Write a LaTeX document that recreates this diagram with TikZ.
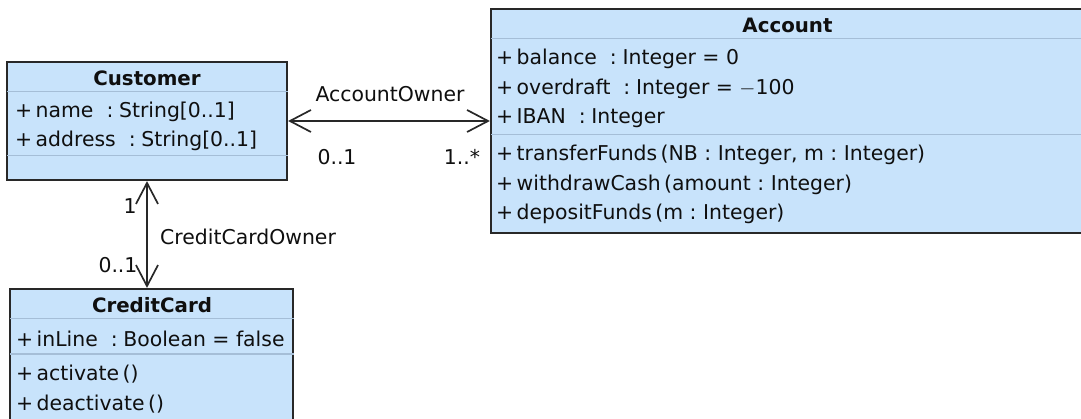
\documentclass[tikz,border=0pt]{standalone}
\usepackage{fontspec}
\setmainfont{DejaVu Sans}
\usetikzlibrary{arrows.meta}
\definecolor{boxfill}{RGB}{200,227,251}
\definecolor{boxline}{RGB}{40,40,40}
\definecolor{sepline}{RGB}{165,190,215}
\definecolor{txt}{RGB}{15,15,15}
\newcommand{\cln}{\ \ :\hspace{0.28em}}
\newcommand{\pcln}{\ :\ }
\tikzset{
  umlbox/.style={draw=boxline, fill=boxfill, line width=2.2pt, inner sep=0pt},
  sep/.style={draw=sepline, line width=1pt},
  row/.style={anchor=west, inner sep=0pt, text=txt, font=\fontsize{20.4}{24}\selectfont},
  title/.style={anchor=center, inner sep=0pt, text=txt, font=\fontsize{19.8}{24}\selectfont\bfseries},
  lbl/.style={inner sep=0pt, text=txt, font=\fontsize{20.4}{24}\selectfont},
  assoc/.style={draw=boxline, line width=1.7pt, {Straight Barb[length=21pt,width=22pt]}-{Straight Barb[length=21pt,width=22pt]}}
}
\begin{document}
\begin{tikzpicture}[x=1pt,y=-1pt]
\useasboundingbox (0,0) rectangle (1081,419);
\clip (0,0) rectangle (1081,419);
% Boxes
\node[umlbox, minimum width=280pt, minimum height=118pt] (cust) at (147,121) {};
\node[umlbox, minimum width=593pt, minimum height=224pt] (acc) at (787.5,121) {};
\node[umlbox, minimum width=283pt, minimum height=161pt] (cc) at (151.5,369.5) {};
% Separators
\coordinate (cs1) at (cust.west |- 0,92);
\coordinate (cs2) at (cust.west |- 0,156);
\draw[sep] ([xshift=1pt]cs1) -- (cs1 -| cust.east);
\draw[sep] ([xshift=1pt]cs2) -- (cs2 -| cust.east);
\coordinate (as1) at (acc.west |- 0,39);
\coordinate (as2) at (acc.west |- 0,135);
\draw[sep] ([xshift=1pt]as1) -- (as1 -| acc.east);
\draw[sep] ([xshift=1pt]as2) -- (as2 -| acc.east);
\coordinate (ccs1) at (cc.west |- 0,319);
\coordinate (ccs2) at (cc.west |- 0,354);
\draw[sep] ([xshift=1pt]ccs1) -- (ccs1 -| cc.east);
\draw[sep] ([xshift=1pt]ccs2) -- (ccs2 -| cc.east);
% Customer text
\node[title] (custT) at (147,78) {Customer};
\node[row] (custA1) at (15,112) {+\,name\cln String[0..1]};
\node[row] (custA2) at (15,141) {+\,address\cln String[0..1]};
% Account text
\node[title] (accT) at (787.5,25) {Account};
\node[row] (accA1) at (496,59) {+\,balance\cln Integer = 0};
\node[row] (accA2) at (496,89) {+\,overdraft\cln Integer = $-$100};
\node[row] (accA3) at (496,118) {+\,IBAN\cln Integer};
\node[row] (accO1) at (496,155) {+\,transferFunds\,(NB\pcln Integer, m\pcln Integer)};
\node[row] (accO2) at (496,185) {+\,withdrawCash\,(amount\pcln Integer)};
\node[row] (accO3) at (496,214) {+\,depositFunds\,(m\pcln Integer)};
% CreditCard text
\node[title] (ccT) at (152,305) {CreditCard};
\node[row] (ccA1) at (16,339) {+\,inLine\cln Boolean = false};
\node[row] (ccO1) at (16,374) {+\,activate\,()};
\node[row] (ccO2) at (16,404) {+\,deactivate\,()};
% Associations
\draw[assoc] (cust.east) -- (cust.east -| acc.west);
\draw[assoc] (cust.south) -- (cust.south |- cc.north);
% Labels
\node[lbl] (ao) at (390,94) {AccountOwner};
\node[lbl] (ao1) at (337,157) {0..1};
\node[lbl] (ao2) at (462,157) {1..*};
\node[lbl] (co) at (130,206) {1};
\node[lbl] (co2) at (118,265) {0..1};
\node[lbl, anchor=west] (con) at (160,237) {CreditCardOwner};
\end{tikzpicture}
\end{document}
